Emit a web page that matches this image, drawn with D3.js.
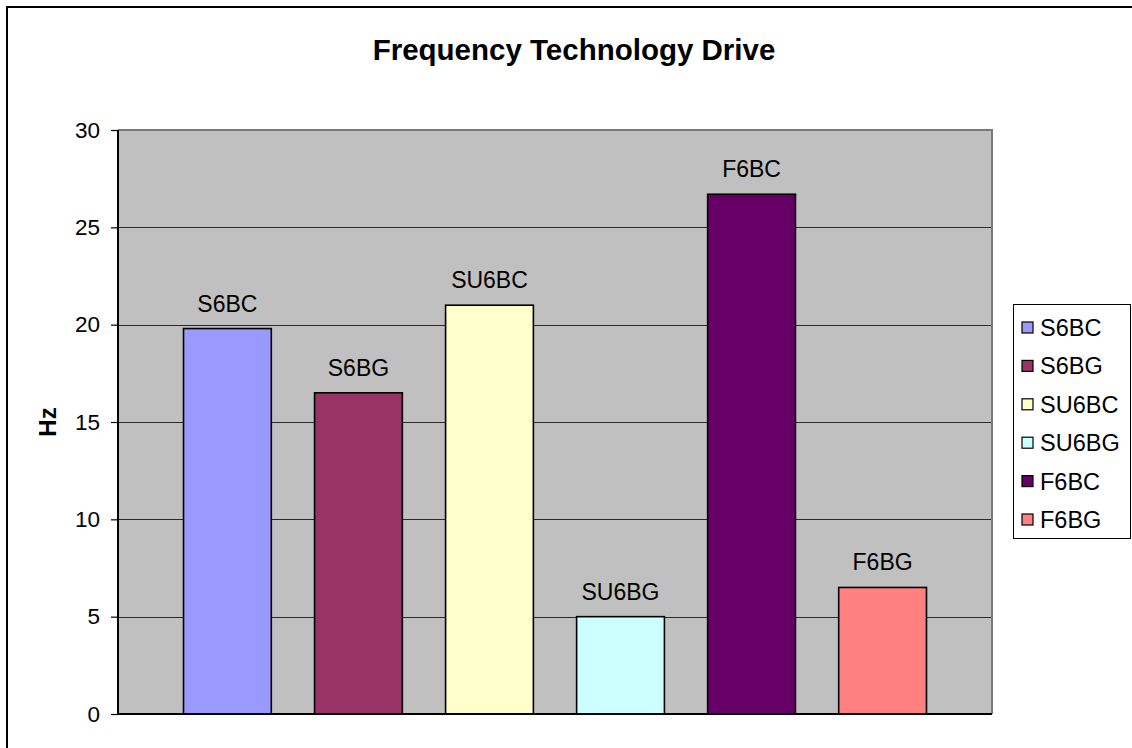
<!DOCTYPE html>
<html>
<head>
<meta charset="utf-8">
<script src="https://cdn.jsdelivr.net/npm/d3@7"></script>
<style>
  html, body { margin: 0; padding: 0; background: #fff; }
  svg { display: block; font-family: "Liberation Sans", Arial, sans-serif; }
</style>
</head>
<body>
<svg id="chart" width="1132" height="748"></svg>
<script>
// Drive types and their measured frequency (Hz)
const drives = ["S6BC", "S6BG", "SU6BC", "SU6BG", "F6BC", "F6BG"];
const frequencies = [19.8, 16.5, 21, 5, 26.7, 6.5];
const driveColors = ["#9999FF", "#993366", "#FFFFCC", "#CCFFFF", "#660066", "#FF8080"];
const yTicks = [0, 5, 10, 15, 20, 25, 30];

const svg = d3.select("#chart");
const W = 1132, H = 748;
const plot = { left: 118, right: 992, top: 130, bottom: 714 };

// Outer chart frame
svg.append("rect")
  .attr("x", 7).attr("y", 7)
  .attr("width", W).attr("height", H)
  .attr("fill", "#fff")
  .attr("stroke", "#000").attr("stroke-width", 2);

// Title
svg.append("text")
  .attr("x", 574)
  .attr("y", 60)
  .attr("text-anchor", "middle")
  .attr("font-size", 29.5)
  .attr("font-weight", "bold")
  .text("Frequency Technology Drive");

const x = d3.scaleBand()
  .domain(drives)
  .range([plot.left, plot.right])
  .paddingInner(0.33)
  .paddingOuter(0.5);

const y = d3.scaleLinear()
  .domain([0, 30])
  .range([plot.bottom, plot.top]);

// Plot area background
svg.append("rect")
  .attr("x", plot.left).attr("y", plot.top)
  .attr("width", plot.right - plot.left)
  .attr("height", plot.bottom - plot.top)
  .attr("fill", "#C0C0C0");

// Horizontal gridlines
svg.append("g")
  .selectAll("line")
  .data(yTicks.filter(t => t > 0 && t < 30))
  .join("line")
  .attr("x1", plot.left).attr("x2", plot.right)
  .attr("y1", d => Math.round(y(d)) + 0.5)
  .attr("y2", d => Math.round(y(d)) + 0.5)
  .attr("stroke", "#2a2a2a").attr("stroke-width", 1);

// Plot area frame (top and right)
svg.append("path")
  .attr("d", `M${plot.left},${plot.top} H${plot.right} V${plot.bottom}`)
  .attr("fill", "none")
  .attr("stroke", "#7a7a7a").attr("stroke-width", 2);

// Bars
svg.append("g")
  .selectAll("rect")
  .data(drives)
  .join("rect")
  .attr("x", d => x(d))
  .attr("y", (d, i) => y(frequencies[i]))
  .attr("width", x.bandwidth())
  .attr("height", (d, i) => y(0) - y(frequencies[i]))
  .attr("fill", (d, i) => driveColors[i])
  .attr("stroke", "#000").attr("stroke-width", 1.6);

// Bar labels
svg.append("g")
  .selectAll("text")
  .data(drives)
  .join("text")
  .attr("x", d => x(d) + x.bandwidth() / 2)
  .attr("y", (d, i) => y(frequencies[i]) - 17)
  .attr("text-anchor", "middle")
  .attr("font-size", 23)
  .text(d => d);

// Y axis
const yAxis = d3.axisLeft(y)
  .tickValues(yTicks)
  .tickSize(7)
  .tickPadding(11)
  .tickFormat(d3.format("d"));

const gy = svg.append("g")
  .attr("transform", `translate(${plot.left},0)`)
  .call(yAxis);
gy.select(".domain").attr("stroke", "#000").attr("stroke-width", 2)
  .attr("d", `M0,${plot.top}V${plot.bottom}`);
gy.selectAll(".tick line").attr("stroke", "#000").attr("stroke-width", 1.2);
gy.selectAll(".tick text")
  .attr("font-size", 22.5)
  .attr("font-family", "Liberation Sans, Arial, sans-serif")
  .attr("fill", "#000");

// X axis baseline
svg.append("line")
  .attr("x1", plot.left).attr("x2", plot.right)
  .attr("y1", plot.bottom).attr("y2", plot.bottom)
  .attr("stroke", "#000").attr("stroke-width", 2);

// Y axis title
svg.append("text")
  .attr("transform", `translate(56, ${(plot.top + plot.bottom) / 2}) rotate(-90)`)
  .attr("text-anchor", "middle")
  .attr("font-size", 24)
  .attr("font-weight", "bold")
  .text("Hz");

// Legend
const legend = { x: 1013, y: 304, w: 117, h: 234, rowGap: 38.4, firstRow: 328 };
svg.append("rect")
  .attr("x", legend.x + 0.5).attr("y", legend.y + 0.5)
  .attr("width", legend.w).attr("height", legend.h)
  .attr("fill", "#fff")
  .attr("stroke", "#000").attr("stroke-width", 1);

const items = svg.append("g")
  .selectAll("g")
  .data(drives)
  .join("g")
  .attr("transform", (d, i) => `translate(${legend.x}, ${legend.firstRow + i * legend.rowGap})`);

items.append("rect")
  .attr("x", 9).attr("y", -6)
  .attr("width", 11).attr("height", 11)
  .attr("fill", (d, i) => driveColors[i])
  .attr("stroke", "#000").attr("stroke-width", 1.2);

items.append("text")
  .attr("x", 27)
  .attr("y", 8)
  .attr("font-size", 23.5)
  .text(d => d);
</script>
</body>
</html>
